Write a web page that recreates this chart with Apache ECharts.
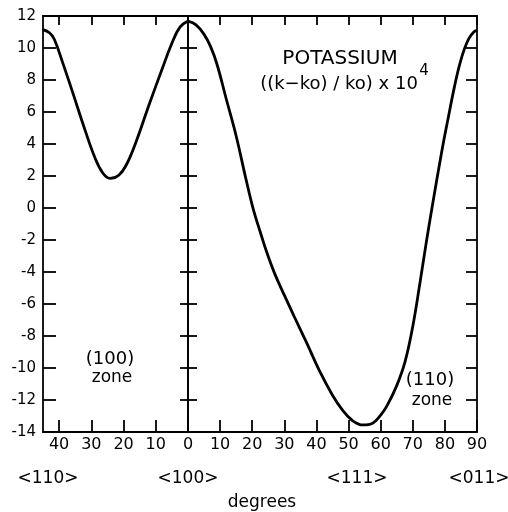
<!DOCTYPE html>
<html>
<head>
<meta charset="utf-8">
<script src="https://cdn.jsdelivr.net/npm/echarts@6/dist/echarts.min.js"></script>
<style>
html,body{margin:0;padding:0;background:#fff;}
#chart{width:508px;height:512px;}
</style>
</head>
<body>
<div id="chart"></div>
<script>
// (100) zone: angle measured from <100> toward <110> (drawn leftwards)
const zone100Angle = [0, 2.5, 5, 8, 12, 16, 19, 21.5, 24.2, 26.5, 29, 32, 36, 39, 41.5, 43, 45];
const zone100Value = [11.68, 11.3, 10.3, 8.7, 6.5, 4.2, 2.75, 2.05, 1.85, 2.2, 3.2, 4.9, 7.35, 9.15, 10.55, 10.95, 11.15];
// (110) zone: angle from <100> through <111> to <011>
const zone110Angle = [0, 2.5, 5, 7, 9, 12, 15, 18, 20.3, 22.5, 24.5, 27, 30, 33, 37, 41, 45, 48, 51, 54.5, 57.5, 60, 62, 65, 67.6, 70, 72.3, 74.4, 76.4, 79, 81, 83, 84.5, 86, 87.5, 89, 90];
const zone110Value = [11.68, 11.45, 10.85, 10.1, 9.0, 6.75, 4.5, 1.85, -0.05, -1.5, -2.75, -4.1, -5.45, -6.75, -8.45, -10.2, -11.7, -12.6, -13.25, -13.56, -13.45, -12.95, -12.35, -11.1, -9.6, -7.4, -4.6, -1.9, 0.5, 3.5, 5.6, 7.6, 8.9, 9.9, 10.6, 11.0, 11.1];
const xTicksLeft = [0, 10, 20, 30, 40];
const xTicksRight = [0, 10, 20, 30, 40, 50, 60, 70, 80, 90];

const FONT = 'DejaVu Sans';
const lineStyle = {color: '#000', width: 1.8};
const chart = echarts.init(document.getElementById('chart'), null, {renderer: 'canvas'});

function xAx(grid, max, ticks, pos, len, labels, inverse) {
  return {
    type: 'value', gridIndex: grid, min: 0, max: max, interval: 10, inverse: inverse, position: pos,
    axisLine: {show: true, onZero: false, lineStyle: lineStyle},
    axisTick: {show: true, inside: true, length: len, lineStyle: lineStyle, customValues: ticks},
    axisLabel: {show: labels, color: '#000', fontFamily: FONT, fontSize: 16, margin: 5,
      customValues: grid === 1 ? ticks.filter(v => v !== 0) : ticks},
    splitLine: {show: false}
  };
}
function yAx(grid, pos, len, labels) {
  return {
    type: 'value', gridIndex: grid, min: -14, max: 12, interval: 2, position: pos,
    axisLine: {show: true, onZero: false, lineStyle: lineStyle},
    axisTick: {show: true, inside: true, length: len, lineStyle: lineStyle},
    axisLabel: {show: labels, color: '#000', fontFamily: FONT, fontSize: 15, margin: 7,
      formatter: v => (v < 0 ? '-' + Math.abs(v) : String(v))},
    splitLine: {show: false}
  };
}

function txt(x, y, s, size) {
  return {type: 'text', x: x, y: y, style: {text: s, fill: '#000', font: size + 'px "' + FONT + '"', textAlign: 'center', textVerticalAlign: 'middle'}};
}

chart.setOption({
  animation: false,
  backgroundColor: '#fff',
  textStyle: {fontFamily: FONT},
  grid: [
    {left: 43, top: 16, width: 145, height: 416},
    {left: 188, top: 16, width: 289, height: 416}
  ],
  xAxis: [
    xAx(0, 45, xTicksLeft, 'bottom', 12, true, true),
    xAx(0, 45, xTicksLeft, 'top', 9, false, true),
    xAx(1, 90, xTicksRight, 'bottom', 12, true, false),
    xAx(1, 90, xTicksRight, 'top', 9, false, false)
  ],
  yAxis: [
    yAx(0, 'left', 13, true),
    yAx(0, 'right', 8, false),
    yAx(1, 'left', 9, false),
    yAx(1, 'right', 11, false)
  ],
  series: [
    {type: 'line', xAxisIndex: 0, yAxisIndex: 0, smooth: 0.4, showSymbol: false, symbol: 'none',
      lineStyle: {color: '#000', width: 2.8}, data: zone100Angle.map((a, i) => [a, zone100Value[i]])},
    {type: 'line', xAxisIndex: 2, yAxisIndex: 2, smooth: 0.4, showSymbol: false, symbol: 'none',
      lineStyle: {color: '#000', width: 2.8}, data: zone110Angle.map((a, i) => [a, zone110Value[i]])}
  ],
  graphic: [
    txt(340, 59, 'POTASSIUM', 20),
    txt(339, 84, '((k\u2212ko) / ko) x 10', 18),
    txt(424, 71, '4', 15),
    txt(110, 359, '(100)', 18),
    txt(112, 378, 'zone', 17),
    txt(430, 380, '(110)', 18),
    txt(432, 401, 'zone', 17),
    txt(48, 479, '<110>', 17),
    txt(188, 479, '<100>', 17),
    txt(357, 479, '<111>', 17),
    txt(479, 479, '<011>', 17),
    txt(262, 503, 'degrees', 17)
  ]
});
</script>
</body>
</html>
